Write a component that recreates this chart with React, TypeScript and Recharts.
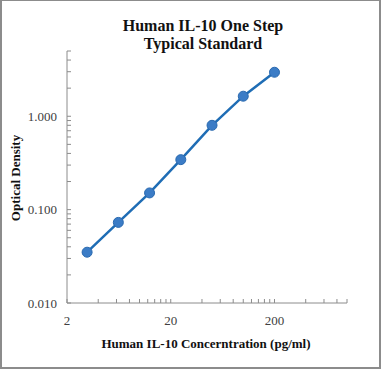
import { Line, LineChart, XAxis, YAxis } from "recharts";

const concentrations = [3.125, 6.25, 12.5, 25, 50, 100, 200];
const opticalDensity = [0.035, 0.073, 0.151, 0.343, 0.8, 1.64, 2.96];

const xMajorTicks = [2, 20, 200];
const xMinorTicks = [4, 6, 8, 10, 12, 14, 16, 18, 40, 60, 80, 100, 120, 140, 160, 180, 400, 600, 800, 1000];
const yMajorTicks = [0.01, 0.1, 1];
const yMinorTicks = [0.02, 0.03, 0.04, 0.05, 0.06, 0.07, 0.08, 0.09, 0.2, 0.3, 0.4, 0.5, 0.6, 0.7, 0.8, 0.9, 2, 3, 4, 5];

const title = ["Human IL-10 One Step", "Typical Standard"];
const xTitle = "Human IL-10 Concerntration (pg/ml)";
const yTitle = "Optical Density";

const data = concentrations.map((c, i) => ({ conc: c, od: opticalDensity[i] }));

const AXIS = "#8c8c8c";
const X_MARGIN = 13;
const Y_MARGIN = 10;
const tickFont = { fontFamily: "'Liberation Serif', 'Times New Roman', serif", fontSize: 13, fill: "#404040" };
const titleFont = "'Liberation Serif', 'Times New Roman', serif";

function XTick(props: any) {
  const { x, y, payload } = props;
  const axisY = y - X_MARGIN;
  const major = xMajorTicks.includes(payload.value);
  return (
    <g>
      <line x1={x} x2={x} y1={axisY} y2={axisY - 4} stroke={AXIS} />
      {major && (
        <text x={x} y={y} dy="0.71em" textAnchor="middle" {...tickFont}>
          {payload.value}
        </text>
      )}
    </g>
  );
}

function YTick(props: any) {
  const { x, y, payload } = props;
  const axisX = x + Y_MARGIN;
  const major = yMajorTicks.includes(payload.value);
  return (
    <g>
      <line x1={axisX} x2={axisX + 4} y1={y} y2={y} stroke={AXIS} />
      {major && (
        <text x={x} y={y} dy="0.35em" textAnchor="end" {...tickFont}>
          {payload.value.toFixed(3)}
        </text>
      )}
    </g>
  );
}

export default function App() {
  return (
    <div style={{ position: "absolute", left: 0, top: 0, width: 381, height: 369, background: "#fff" }}>
      <LineChart width={381} height={369} data={data} margin={{ top: 51, right: 34, bottom: 0, left: 0 }}>
        <XAxis
          dataKey="conc"
          type="number"
          scale="log"
          domain={[2, 1000]}
          allowDataOverflow
          ticks={[...xMajorTicks, ...xMinorTicks].sort((a, b) => a - b)}
          interval={0}
          height={66}
          tickSize={0}
          tickMargin={X_MARGIN}
          tickLine={false}
          axisLine={{ stroke: AXIS }}
          tick={<XTick />}
          label={{
            content: () => (
              <text x={206} y={343} dy="0.35em" textAnchor="middle" fontFamily={titleFont} fontWeight="bold" fontSize={13} fill="#111">
                {xTitle}
              </text>
            ),
          }}
        />
        <YAxis
          dataKey="od"
          type="number"
          scale="log"
          domain={[0.01, 5]}
          allowDataOverflow
          ticks={[...yMajorTicks, ...yMinorTicks].sort((a, b) => a - b)}
          interval={0}
          width={67}
          tickSize={0}
          tickMargin={Y_MARGIN}
          tickLine={false}
          axisLine={{ stroke: AXIS }}
          tick={<YTick />}
          label={{
            content: () => (
              <text x={15} y={178} dy="0.35em" textAnchor="middle" transform="rotate(-90, 15, 178)" fontFamily={titleFont} fontWeight="bold" fontSize={13} fill="#111">
                {yTitle}
              </text>
            ),
          }}
        />
        <Line
          dataKey="od"
          stroke="#1f6db5"
          strokeWidth={2.5}
          dot={{ r: 5, fill: "#3b7cc6", stroke: "#2a6ab0", strokeWidth: 1 }}
          isAnimationActive={false}
        />
      </LineChart>
      <div
        style={{
          position: "absolute",
          left: 23,
          top: 17,
          width: 360,
          textAlign: "center",
          fontFamily: titleFont,
          fontWeight: "bold",
          fontSize: 16,
          lineHeight: "18px",
          color: "#111",
        }}
      >
        {title.map((t) => (
          <div key={t}>{t}</div>
        ))}
      </div>
      <div
        style={{
          position: "absolute",
          left: 0,
          top: 0,
          width: 381,
          height: 369,
          boxSizing: "border-box",
          borderStyle: "solid",
          borderColor: "#8c8c8c",
          borderWidth: "1px 2px 2px 2px",
          pointerEvents: "none",
        }}
      />
    </div>
  );
}
